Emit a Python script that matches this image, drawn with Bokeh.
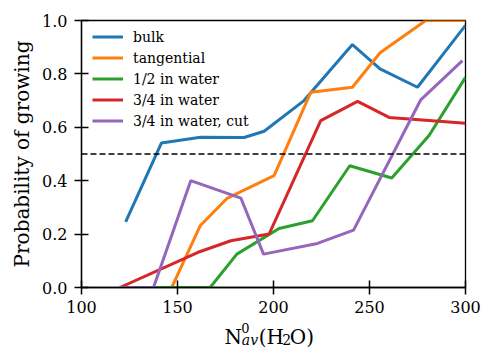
from bokeh.plotting import figure
from bokeh.layouts import column
from bokeh.models import (Span, FixedTicker, PrintfTickFormatter, Legend, LegendItem,
                          Range1d, ColumnDataSource)
from bokeh.core.properties import value
from bokeh.embed import file_html
from bokeh.resources import INLINE

# ---- data ----
bulk_x = [123, 141.6, 162, 184.7, 195.1, 215.9, 241.1, 255.5, 275, 300]
bulk_y = [0.246, 0.541, 0.563, 0.562, 0.585, 0.70, 0.91, 0.819, 0.75, 0.982]

tang_x = [147, 161.8, 176, 200.3, 219.4, 241.1, 255.5, 279.3, 300]
tang_y = [0.0, 0.231, 0.335, 0.419, 0.731, 0.75, 0.879, 1.0, 1.0]

half_x = [138, 167, 180.9, 202.9, 220.3, 239.7, 261.6, 281, 300]
half_y = [0.0, 0.0, 0.125, 0.221, 0.25, 0.456, 0.41, 0.569, 0.787]

tq_x = [120, 160.4, 177.8, 197.7, 224.6, 243.8, 260.2, 300]
tq_y = [0.0, 0.131, 0.175, 0.2, 0.625, 0.697, 0.637, 0.615]

cut_x = [119.6, 137.5, 156.9, 183, 194.8, 222.9, 241.7, 276.7, 298.4]
cut_y = [0.0, 0.0, 0.4, 0.335, 0.125, 0.165, 0.215, 0.703, 0.85]

series_names = ["bulk", "tangential", "1/2 in water", "3/4 in water", "3/4 in water, cut"]
colors = ["#1f77b4", "#ff7f0e", "#2ca02c", "#d62728", "#9467bd"]

x_ticks = [100, 150, 200, 250, 300]
y_ticks = [0.0, 0.2, 0.4, 0.6, 0.8, 1.0]
threshold = 0.5

# x-axis label N^0_av(H2O), split into normal / superscript / subscript pieces
xlabel_parts = ["N", "0", "av", "(H", "2", "O)"]

SERIF = "DejaVu Serif"
TOP_H = 318

p = figure(width=483, height=TOP_H, output_backend="svg", toolbar_location=None,
           x_range=Range1d(100, 300), y_range=Range1d(0, 1.0),
           min_border_left=81, min_border_right=18, min_border_top=20,
           min_border_bottom=TOP_H - 287)
p.grid.visible = False
p.outline_line_color = "black"
p.outline_line_width = 1.3
p.background_fill_color = "white"
p.border_fill_color = "white"

for ax in (p.xaxis[0], p.yaxis[0]):
    ax.axis_line_color = "black"
    ax.axis_line_width = 1.3
    ax.major_tick_in = 7
    ax.major_tick_out = 7
    ax.major_tick_line_width = 1.5
    ax.major_tick_line_color = "black"
    ax.minor_tick_line_color = None
    ax.major_label_text_font = SERIF
    ax.major_label_text_font_size = "16px"
    ax.major_label_text_color = "black"

p.xaxis.major_label_standoff = 6
p.yaxis.major_label_standoff = 7

p.xaxis.ticker = FixedTicker(ticks=x_ticks)
p.yaxis.ticker = FixedTicker(ticks=y_ticks)
p.xaxis.formatter = PrintfTickFormatter(format="%d")
p.yaxis.formatter = PrintfTickFormatter(format="%.1f")

p.yaxis.axis_label = "Probability of growing"
p.yaxis.axis_label_text_font = SERIF
p.yaxis.axis_label_text_font_size = "20px"
p.yaxis.axis_label_text_font_style = "normal"
p.yaxis.axis_label_text_color = "black"
p.yaxis.axis_label_standoff = 5

p.add_layout(Span(location=threshold, dimension="width", line_color="black",
                  line_width=1.5, line_dash="6 3"))

items = []
for xs, ys, name, c in zip([bulk_x, tang_x, half_x, tq_x, cut_x],
                           [bulk_y, tang_y, half_y, tq_y, cut_y],
                           series_names, colors):
    r = p.line(xs, ys, line_color=c, line_width=3)
    items.append(LegendItem(label=name, renderers=[r]))

legend = Legend(items=items, location=(11, 156), orientation="vertical",
                label_text_font=SERIF, label_text_font_size="14px",
                label_text_color="black",
                glyph_width=31, glyph_height=21, label_height=21, label_standoff=10,
                spacing=0, padding=0, margin=0,
                background_fill_alpha=0, border_line_alpha=0)
p.add_layout(legend)

# ---- strip below holding the x-axis label as real text ----
BOT_H = 349 - TOP_H
p2 = figure(width=483, height=BOT_H, output_backend="svg", toolbar_location=None,
            x_range=Range1d(100, 300), y_range=Range1d(0, BOT_H),
            min_border_left=81, min_border_right=18, min_border_top=0, min_border_bottom=0,
            x_axis_location=None, y_axis_location=None)
p2.grid.visible = False
p2.outline_line_color = None
p2.background_fill_color = "white"
p2.border_fill_color = "white"

SHIFT = 5  # compensate the rendered baseline offset

def dx(px):
    return 100 + (px - 81) / 1.92

def dy(py):
    return 349 - (py - SHIFT)

lx = [dx(v) for v in (224, 240.7, 241.3, 258.3, 281.7, 289.3)]
ly = [dy(v) for v in (341, 332, 344, 341, 343.5, 341)]
lsize = ["20px", "13px", "14px", "20px", "14px", "20px"]
lstyle = ["normal", "normal", "italic", "normal", "normal", "normal"]
src = ColumnDataSource(dict(x=lx, y=ly, text=xlabel_parts, size=lsize, style=lstyle))
p2.text(x="x", y="y", text="text", source=src, text_font=value(SERIF),
        text_font_size="size", text_font_style="style",
        text_baseline="alphabetic", text_align="left", text_color="black")

layout = column(p, p2, spacing=0)
open("out.html", "w").write(file_html(layout, INLINE))
